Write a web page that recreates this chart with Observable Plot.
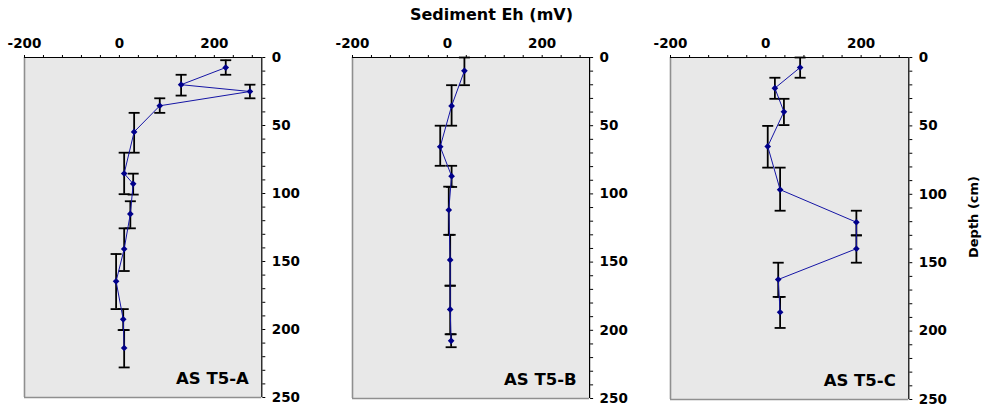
<!DOCTYPE html>
<html><head><meta charset="utf-8">
<script src="https://cdn.jsdelivr.net/npm/d3@7"></script>
<script src="https://cdn.jsdelivr.net/npm/@observablehq/plot@0.6"></script>
<style>
body{margin:0;background:#fff;}
#wrap{position:relative;width:987px;height:413px;overflow:hidden;font-family:"DejaVu Sans",sans-serif;font-weight:bold;color:#000;}
.pl{position:absolute;top:0;}
#title{position:absolute;left:0;width:983px;text-align:center;top:7px;line-height:16px;font-size:16px;}
#ylab{position:absolute;left:973px;top:217px;transform:translate(-50%,-50%) rotate(-90deg);font-size:13px;white-space:nowrap;}
</style></head>
<body><div id="wrap"><div id="title">Sediment Eh (mV)</div><div id="ylab">Depth (cm)</div></div>
<script>
const panelNames = ["AS T5-A", "AS T5-B", "AS T5-C"];

// Panel A
const ehA     = [224, 130, 275, 85, 31, 10, 29, 23, 10, -7, 8, 10];
const depthA  = [7.4, 20, 25, 35.5, 54.7, 85.3, 92.9, 115, 140.8, 164.6, 192.5, 213.6];
const topA    = [2, 12.7, 20, 30, 40.7, 70, 85.4, 105.7, 125.6, 144.5, 185, 200.4];
const bottomA = [12.7, 28, 30, 40.7, 70, 100.5, 100.8, 125.6, 157, 185, 200.4, 227.9];

// Panel B
const ehB     = [36, 9, -15, 9, 3, 6, 6, 8];
const depthB  = [9.8, 35.5, 65.4, 87, 111.8, 148.4, 184.7, 207.7];
const topB    = [0, 20.3, 50, 79.4, 94.7, 130, 167.3, 202.9];
const bottomB = [20.3, 50, 79.4, 94.9, 130, 167.3, 202.9, 212.4];

// Panel C
const ehC     = [72, 19, 38, 4, 30, 190, 190, 26, 30];
const depthC  = [7.3, 22.4, 39.7, 65, 96.6, 120.4, 139.8, 162.3, 186.2];
const topC    = [0, 14.8, 30.2, 50, 80.5, 112, 130, 150, 175];
const bottomC = [14.8, 30.2, 49.4, 80.5, 112, 130, 150, 175, 197.7];

const xTicks = [-200, -160, -120, -80, -40, 0, 40, 80, 120, 160, 200, 240, 280];
const xTickLabels = [-200, 0, 200];
const yTicks = [0,10,20,30,40,50,60,70,80,90,100,110,120,130,140,150,160,170,180,190,200,210,220,230,240,250];
const yTickLabels = [0, 50, 100, 150, 200, 250];

function rows(eh, depth, top, bottom) {
  return eh.map((v, i) => ({eh: v, depth: depth[i], top: top[i], bottom: bottom[i]}));
}
const panels = [
  rows(ehA, depthA, topA, bottomA),
  rows(ehB, depthB, topB, bottomB),
  rows(ehC, depthC, topC, bottomC)
];

// layout: frame left / right / bottom in page pixels
const layout = [
  {left: 23.7, right: 261, bottom: 397},
  {left: 352.3, right: 589.4, bottom: 398},
  {left: 670, right: 908.3, bottom: 399}
];

const cap = {draw(context) { context.moveTo(-5.5, 0); context.lineTo(5.5, 0); }};

const wrap = document.getElementById("wrap");
panels.forEach((data, i) => {
  const L = layout[i];
  const svgLeft = L.left - 24;
  const width = 320;
  const marginLeft = L.left - svgLeft;
  const marginRight = width - (L.right - svgLeft);
  const chart = Plot.plot({
    width, height: 413,
    marginTop: 57, marginBottom: 413 - L.bottom, marginLeft, marginRight,
    style: {fontFamily: "DejaVu Sans", fontWeight: "bold", fontSize: "13.5px", color: "black", background: "transparent", overflow: "visible"},
    x: {domain: [-200, 300]},
    y: {domain: [0, 250], reverse: true},
    marks: [
      Plot.frame({fill: "#e8e8e8", stroke: "none"}),
      Plot.ruleX([-200], {stroke: "#8f8f8f", strokeWidth: 1.6}),
      Plot.ruleY([250], {stroke: "#8f8f8f", strokeWidth: 1.6}),
      Plot.ruleY([0], {stroke: "black", strokeWidth: 1.2}),
      Plot.ruleX([300], {stroke: "black", strokeWidth: 1.2}),
      Plot.axisX({anchor: "top", ticks: xTicks, tickFormat: d => xTickLabels.includes(d) ? String(d) : "", tickSize: 3, tickPadding: 7, label: null}),
      Plot.axisY({anchor: "right", ticks: yTicks, tickFormat: d => yTickLabels.includes(d) ? String(d) : "", tickSize: 3, tickPadding: 7, label: null}),
      Plot.ruleX(data, {x: "eh", y1: "top", y2: "bottom", stroke: "black", strokeWidth: 1.8}),
      Plot.dot(data, {x: "eh", y: "top", symbol: cap, r: 3, stroke: "black", strokeWidth: 1.8, fill: "none"}),
      Plot.dot(data, {x: "eh", y: "bottom", symbol: cap, r: 3, stroke: "black", strokeWidth: 1.8, fill: "none"}),
      Plot.line(data, {x: "eh", y: "depth", stroke: "#1515a5", strokeWidth: 1}),
      Plot.dot(data, {x: "eh", y: "depth", symbol: "diamond2", r: 3, fill: "#00008b", stroke: "none"}),
      Plot.text([panelNames[i]], {frameAnchor: "bottom-right", text: d => d, dx: -13, dy: -19, textAnchor: "end", lineAnchor: "middle", fontSize: 16.5, fontWeight: "bold", fill: "black"})
    ]
  });
  chart.classList.add("pl");
  chart.style.left = svgLeft + "px";
  wrap.appendChild(chart);
});
</script>
</body></html>
